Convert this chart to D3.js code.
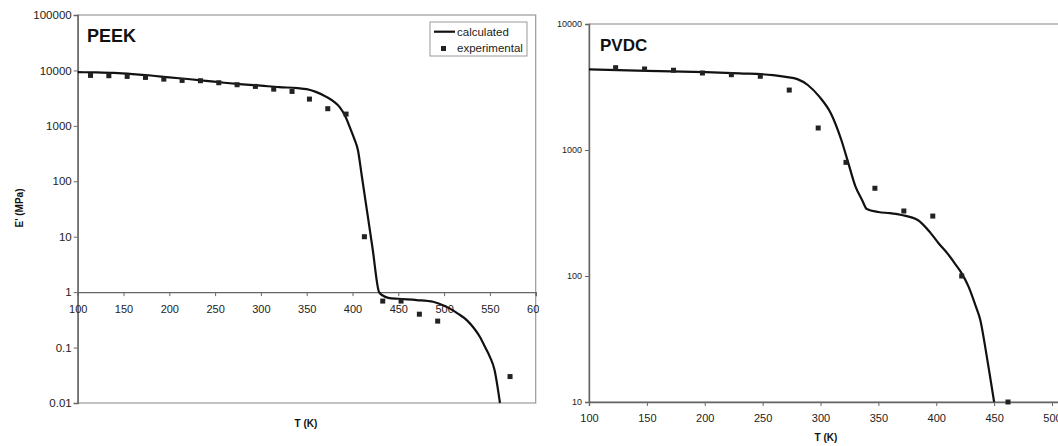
<!DOCTYPE html>
<html>
<head>
<meta charset="utf-8">
<script src="https://cdn.jsdelivr.net/npm/d3@7/dist/d3.min.js"></script>
<style>
html,body{margin:0;padding:0;background:#fff;}
svg{display:block;font-family:"Liberation Sans",Arial,sans-serif;}
</style>
</head>
<body>
<svg id="chart" width="1058" height="446"></svg>
<script>
// ---------- PEEK (left panel) ----------
const peekCalcT = [100,120,140,160,180,200,220,240,260,280,300,320,340,350,360,372,380,386,392,397,402,406,410,416,422,429,433,439,450,470,488,500,506,515,525,532,539,545,550,555,561];
const peekCalcE = [9300,9200,9000,8600,8100,7500,7000,6500,6000,5600,5300,5000,4800,4600,4100,3300,2700,2180,1500,950,580,360,130,28,6,1,0.87,0.79,0.76,0.72,0.67,0.57,0.51,0.41,0.31,0.23,0.157,0.1,0.068,0.04,0.01];
const peekExpT = [114,134,154,174,194,214,234,254,274,294,314,334,353,373,393,413,433,453,473,493,572];
const peekExpE = [8130,8030,7800,7480,6970,6600,6520,6000,5520,5150,4600,4180,3040,2040,1630,10,0.69,0.69,0.4,0.3,0.03];
const peekXTicks = [100,150,200,250,300,350,400,450,500,550,600];
const peekYTicks = [0.01,0.1,1,10,100,1000,10000,100000];
const peekYLabels = ["0.01","0.1","1","10","100","1000","10000","100000"];

// ---------- PVDC (right panel) ----------
const pvdcCalcT = [100,150,200,230,259,270,280,289,299,309,318,324,330,336,340,350,360,370,384,395,402,410,416,422,428,434,438,443,446,450];
const pvdcCalcE = [4370,4250,4150,4060,3930,3800,3650,3280,2650,1950,1200,790,520,400,340,322,315,305,278,220,182,150,126,105,82,58,45,25,17,10];
const pvdcExpT = [123,148,173,198,223,248,273,298,322,347,372,397,422,462];
const pvdcExpE = [4500,4395,4295,4085,3960,3848,2990,1495,798,497,328,299,100,10];
const pvdcXTicks = [100,150,200,250,300,350,400,450,500,550];
const pvdcYTicks = [10,100,1000,10000];
const pvdcYLabels = ["10","100","1000","10000"];

const legendLabels = ["calculated","experimental"];

const svg = d3.select("#chart");
const lineColor = "#111";
const markColor = "#222";
const frameColor = "#9a9a9a";
const axisColor = "#666";

svg.append("defs").append("clipPath").attr("id","clipL")
  .append("rect").attr("x",0).attr("y",0).attr("width",539).attr("height",446);

// ================= LEFT =================
const gL = svg.append("g").attr("clip-path","url(#clipL)");
const xL = d3.scaleLinear().domain([100,600]).range([77.7,535.7]);
const yL = d3.scaleLog().domain([0.01,100000]).range([403,15]);

gL.append("rect").attr("x",xL(100)).attr("y",yL(100000))
  .attr("width",xL(600)-xL(100)).attr("height",yL(0.01)-yL(100000))
  .attr("fill","none").attr("stroke",frameColor).attr("stroke-width",1.2);

const yAxL = gL.append("g").attr("transform",`translate(${xL(100)},0)`)
  .call(d3.axisLeft(yL).tickValues(peekYTicks).tickSize(4).tickPadding(2)
    .tickFormat((d,i)=>peekYLabels[i]));
const xAxL = gL.append("g").attr("transform",`translate(0,${yL(1)})`)
  .call(d3.axisBottom(xL).tickValues(peekXTicks).tickSize(4).tickPadding(9)
    .tickFormat(d3.format("d")));
[yAxL,xAxL].forEach(a=>{
  a.select(".domain").attr("stroke",axisColor).attr("stroke-width",1.4);
  a.selectAll(".tick line").attr("stroke",axisColor);
  a.selectAll(".tick text").attr("fill","#222").style("font-size","11.5px");
});
xAxL.selectAll(".tick text").style("font-size","11px");

const lineL = d3.line().x((d,i)=>xL(peekCalcT[i])).y((d,i)=>yL(peekCalcE[i])).curve(d3.curveMonotoneX);
gL.append("path").datum(peekCalcT).attr("d",lineL)
  .attr("fill","none").attr("stroke",lineColor).attr("stroke-width",2.2);
gL.selectAll("rect.pt").data(peekExpT).enter().append("rect").attr("class","pt")
  .attr("x",(d)=>xL(d)-2.5).attr("y",(d,i)=>yL(peekExpE[i])-2.5)
  .attr("width",5).attr("height",5).attr("fill",markColor);

gL.append("text").attr("x",87).attr("y",42).text("PEEK")
  .style("font-size","18px").style("font-weight","bold").attr("fill","#111");

const lg = gL.append("g");
lg.append("rect").attr("x",430).attr("y",22).attr("width",97).attr("height",34)
  .attr("fill","#fff").attr("stroke",frameColor).attr("stroke-width",1);
lg.append("line").attr("x1",434).attr("x2",455).attr("y1",31.7).attr("y2",31.7)
  .attr("stroke",lineColor).attr("stroke-width",2.2);
lg.append("rect").attr("x",441).attr("y",46).attr("width",5).attr("height",5).attr("fill",markColor);
lg.selectAll("text").data(legendLabels).enter().append("text")
  .attr("x",457).attr("y",(d,i)=>36+i*16).text(d=>d)
  .style("font-size","11.5px").attr("fill","#222");

gL.append("text").attr("x",306).attr("y",427).attr("text-anchor","middle")
  .text("T (K)").style("font-size","10px").style("font-weight","bold").attr("fill","#111");
gL.append("text").attr("transform","translate(23,208) rotate(-90)").attr("text-anchor","middle")
  .text("E' (MPa)").style("font-size","10px").style("font-weight","bold").attr("fill","#111");

// ================= RIGHT =================
const gR = svg.append("g");
const xR = d3.scaleLinear().domain([100,550]).range([589,589+450*1.1575]);
const yR = d3.scaleLog().domain([10,10000]).range([402,24]);

gR.append("rect").attr("x",xR(100)).attr("y",yR(10000))
  .attr("width",xR(550)-xR(100)).attr("height",yR(10)-yR(10000))
  .attr("fill","none").attr("stroke",frameColor).attr("stroke-width",1.2);

const yAxR = gR.append("g").attr("transform",`translate(${xR(100)},0)`)
  .call(d3.axisLeft(yR).tickValues(pvdcYTicks).tickSize(4).tickPadding(3)
    .tickFormat((d,i)=>pvdcYLabels[i]));
const xAxR = gR.append("g").attr("transform",`translate(0,${yR(10)})`)
  .call(d3.axisBottom(xR).tickValues(pvdcXTicks).tickSize(4).tickPadding(8)
    .tickFormat(d3.format("d")));
[yAxR,xAxR].forEach(a=>{
  a.select(".domain").attr("stroke",axisColor).attr("stroke-width",1.4);
  a.selectAll(".tick line").attr("stroke",axisColor);
  a.selectAll(".tick text").attr("fill","#222");
});
yAxR.selectAll(".tick text").style("font-size","9px");
xAxR.selectAll(".tick text").style("font-size","11px");

const lineR = d3.line().x((d,i)=>xR(pvdcCalcT[i])).y((d,i)=>yR(pvdcCalcE[i])).curve(d3.curveMonotoneX);
gR.append("path").datum(pvdcCalcT).attr("d",lineR)
  .attr("fill","none").attr("stroke",lineColor).attr("stroke-width",2.2);
gR.selectAll("rect.pt").data(pvdcExpT).enter().append("rect").attr("class","pt")
  .attr("x",(d)=>xR(d)-2.5).attr("y",(d,i)=>yR(pvdcExpE[i])-2.5)
  .attr("width",5).attr("height",5).attr("fill",markColor);

gR.append("text").attr("x",600).attr("y",51).text("PVDC")
  .style("font-size","17px").style("font-weight","bold").attr("fill","#111");
gR.append("text").attr("x",826).attr("y",441).attr("text-anchor","middle")
  .text("T (K)").style("font-size","10px").style("font-weight","bold").attr("fill","#111");
</script>
</body>
</html>
